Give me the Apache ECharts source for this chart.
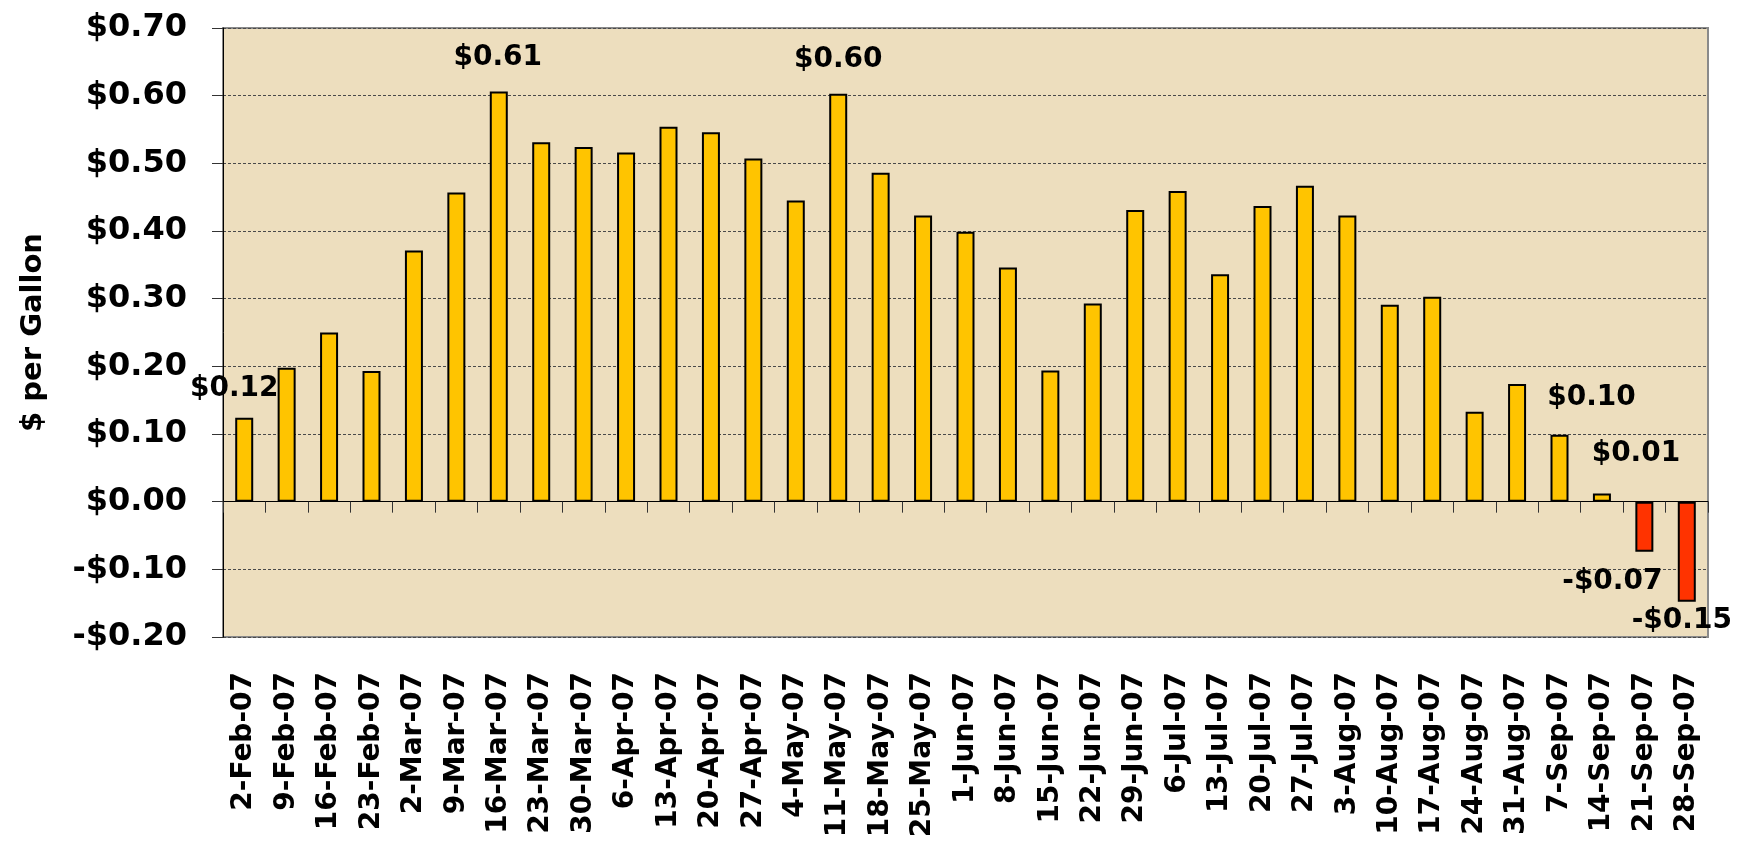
<!DOCTYPE html>
<html>
<head>
<meta charset="utf-8">
<script src="https://cdn.jsdelivr.net/npm/echarts@6/dist/echarts.min.js"></script>
<style>
  html, body { margin: 0; padding: 0; background: #fff; }
  #chart { width: 1742px; height: 849px; }
</style>
</head>
<body>
<div id="chart"></div>
<script>
// weekly values, $ per gallon
const weeks = [
  '2-Feb-07', '9-Feb-07', '16-Feb-07', '23-Feb-07', '2-Mar-07', '9-Mar-07', '16-Mar-07',
  '23-Mar-07', '30-Mar-07', '6-Apr-07', '13-Apr-07', '20-Apr-07', '27-Apr-07', '4-May-07',
  '11-May-07', '18-May-07', '25-May-07', '1-Jun-07', '8-Jun-07', '15-Jun-07', '22-Jun-07',
  '29-Jun-07', '6-Jul-07', '13-Jul-07', '20-Jul-07', '27-Jul-07', '3-Aug-07', '10-Aug-07',
  '17-Aug-07', '24-Aug-07', '31-Aug-07', '7-Sep-07', '14-Sep-07', '21-Sep-07', '28-Sep-07'
]
const perGallon = [
  0.124, 0.198, 0.250, 0.193, 0.371, 0.457, 0.606,
  0.531, 0.524, 0.516, 0.554, 0.546, 0.507, 0.445,
  0.603, 0.486, 0.423, 0.399, 0.346, 0.194, 0.293,
  0.431, 0.459, 0.336, 0.437, 0.467, 0.423, 0.291,
  0.303, 0.133, 0.174, 0.099, 0.012, -0.074, -0.148
]
// y axis ticks
const yMin = -0.2
const yMax = 0.7
const yStep = 0.1
// bars that carry a value label
const labeledWeeks = ['2-Feb-07', '16-Mar-07', '11-May-07', '7-Sep-07', '14-Sep-07', '21-Sep-07', '28-Sep-07']

// label nudges (style only)
const labelNudge = {
  '2-Feb-07': [-10, -10],
  '16-Mar-07': [-1, -15],
  '11-May-07': [0, -15],
  '7-Sep-07': [32, -18],
  '14-Sep-07': [34, -21],
  '21-Sep-07': [-32, 11],
  '28-Sep-07': [-5, 0],
}

const FONT = 'DejaVu Sans'
const money = v => {
  const r = Math.round(v * 100) / 100
  return (r < 0 ? '-$' : '$') + Math.abs(r).toFixed(2)
}

let chart = echarts.init(document.getElementById('chart'))

const barData = perGallon.map((v, i) => {
  const item = {
    value: v,
    itemStyle: { color: v < 0 ? '#ff3300' : '#ffc400' },
  }
  if (labeledWeeks.includes(weeks[i])) {
    item.label = {
      show: true,
      position: v < 0 ? 'bottom' : 'top',
      offset: labelNudge[weeks[i]],
      formatter: p => money(p.value),
      fontFamily: FONT,
      fontWeight: 'bold',
      fontSize: 28,
      color: '#000',
    }
  }
  return item
})

chart.setOption({
  animation: false,
  textStyle: { fontFamily: FONT },
  grid: {
    left: 223,
    top: 28,
    right: 34,
    bottom: 212,
    show: true,
    backgroundColor: '#eddebe',
    borderColor: '#8a8a8a',
    borderWidth: 2,
  },
  xAxis: [
    {
      // axis line and ticks sit on zero
      type: 'category',
      data: weeks,
      axisLine: { onZero: true, lineStyle: { color: '#000', width: 1 } },
      axisTick: { show: true, interval: 0, length: 11, lineStyle: { color: '#333' } },
      axisLabel: { show: false, interval: 0 },
      splitLine: { show: false },
    },
    {
      // labels along the bottom
      type: 'category',
      data: weeks,
      position: 'bottom',
      axisLine: { show: false, onZero: false },
      axisTick: { show: false },
      axisLabel: {
        rotate: 90,
        interval: 0,
        margin: 35,
        fontFamily: FONT,
        fontWeight: 'bold',
        fontSize: 28,
        color: '#000',
      },
    },
  ],
  yAxis: {
    type: 'value',
    min: yMin,
    max: yMax,
    interval: yStep,
    name: '$ per Gallon',
    nameLocation: 'middle',
    nameGap: 175,
    nameTextStyle: { fontFamily: FONT, fontWeight: 'bold', fontSize: 29, color: '#000' },
    axisLine: { show: true, lineStyle: { color: '#000', width: 1 } },
    axisTick: { show: true, length: 11, lineStyle: { color: '#333' } },
    axisLabel: {
      margin: 36,
      fontFamily: FONT,
      fontWeight: 'bold',
      fontSize: 32,
      color: '#000',
      formatter: v => money(v),
    },
    splitLine: {
      show: true,
      lineStyle: { color: '#4a4a4a', width: 1, type: [3, 2] },
    },
  },
  series: [
    {
      type: 'bar',
      xAxisIndex: 0,
      data: barData,
      barWidth: 18,
      itemStyle: { borderColor: '#000', borderWidth: 2 },
    },
  ],
})
</script>
</body>
</html>
